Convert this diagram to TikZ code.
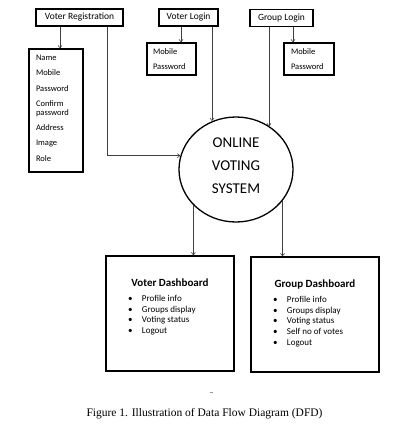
\documentclass[tikz,border=0pt]{standalone}
\usepackage{fontspec}
\setmainfont{Carlito}
\newfontfamily\figfont{Liberation Serif}
\usetikzlibrary{arrows.meta,shapes.geometric}
\tikzset{
  box/.style     = { draw, line width=1.3pt, inner sep=0pt },
  login/.style   = { box, minimum height=17pt, font=\fontsize{9.5}{11}\selectfont },
  flow/.style    = { draw=black!75, line width=0.6pt, -{Straight Barb[length=2.5pt,width=4pt]} },
  process/.style = { box, ellipse, minimum width=114pt, minimum height=105pt,
                     font=\fontsize{15}{23}\selectfont }
}

\begin{document}
\begin{tikzpicture}[x=1pt,y=-1pt]
    \useasboundingbox (0,0) rectangle (410,432);

    \node[login, minimum width=87pt] (vreg)   at (79.5,17.5) {Voter Registration};
    \node[login, minimum width=59pt] (vlogin) at (188.5,17.5) {Voter Login};
    \node[login, minimum width=63pt] (glogin) at (281.5,18)   {Group Login};

    \node[box] (vregform) at (56,110.5) {\parbox[c][123pt][t]{54pt}{\fontsize{8.5}{9}\selectfont
        \raggedright\leftskip=7pt \vspace*{6pt}
        Name\\[6.3pt] Mobile\\[6.3pt] Password\\[6.3pt] Confirm\\ password\\[6.3pt]
        Address\\[6.3pt] Image\\[6.3pt] Role}};
    \node[box] (vloginform) at (171.5,59) {\parbox[c][32pt][t]{49pt}{\fontsize{8.5}{15}\selectfont
        \raggedright\leftskip=6pt \vspace*{6pt}
        Mobile\\ Password}};
    \node[box] (gloginform) at (309,59) {\parbox[c][32pt][t]{50pt}{\fontsize{8.5}{15}\selectfont
        \raggedright\leftskip=7pt \vspace*{6pt}
        Mobile\\ Password}};

    \node[process] (ovs) at (236,169.5)
        {\raisebox{3.5pt}[\height][\depth]{\begin{tabular}{@{}c@{}}ONLINE\\VOTING\\SYSTEM\end{tabular}}};

    \node[box] (vdash) at (170,313.5) {\parbox[c][115pt][t]{128pt}{\vspace*{23pt}
        {\centering\fontsize{11}{12}\selectfont\bfseries Voter Dashboard\par}
        \vspace{4pt}\fontsize{9}{10.7}\selectfont
        \hspace*{22pt}\makebox[14pt][l]{\textbullet}Profile info\par
        \hspace*{22pt}\makebox[14pt][l]{\textbullet}Groups display\par
        \hspace*{22pt}\makebox[14pt][l]{\textbullet}Voting status\par
        \hspace*{22pt}\makebox[14pt][l]{\textbullet}Logout\par}};
    \node[box] (gdash) at (315,314.5) {\parbox[c][115pt][t]{128pt}{\vspace*{23pt}
        {\centering\fontsize{11}{12}\selectfont\bfseries Group Dashboard\par}
        \vspace{4pt}\fontsize{9}{10.7}\selectfont
        \hspace*{22pt}\makebox[14pt][l]{\textbullet}Profile info\par
        \hspace*{22pt}\makebox[14pt][l]{\textbullet}Groups display\par
        \hspace*{22pt}\makebox[14pt][l]{\textbullet}Voting status\par
        \hspace*{22pt}\makebox[14pt][l]{\textbullet}Self no of votes\par
        \hspace*{22pt}\makebox[14pt][l]{\textbullet}Logout\par}};

    % logins to their forms
    \draw[flow] ([xshift=-19.5pt]vreg.south)   -- ([xshift=-19.5pt]vreg.south |- vregform.north);
    \draw[flow] ([xshift=-7.5pt]vlogin.south)  -- ([xshift=-7.5pt]vlogin.south |- vloginform.north);
    \draw[flow] ([xshift=11.5pt]glogin.south)  -- ([xshift=11.5pt]glogin.south |- gloginform.north);

    % logins to the system
    \draw[flow] ([xshift=27.5pt]vreg.south)    |- (ovs.166.2);
    \draw[flow] ([xshift=23.5pt]vlogin.south)  -- ([xshift=23.5pt]vlogin.south |- ovs.116.8);
    \draw[flow] ([xshift=-12.5pt]glogin.south) -- ([xshift=-12.5pt]glogin.south |- ovs.52.4);

    % system to dashboards
    \draw[flow] (ovs.220.2) -- (ovs.220.2 |- vdash.north);
    \draw[flow] (ovs.326)   -- (ovs.326 |- gdash.north);

    \draw[black!40, line width=0.8pt] (209.5,392) -- (212.5,392);

    \node[font=\figfont\fontsize{11.5}{13}\selectfont, anchor=west] (caption) at (83,414)
        {Figure 1. Illustration of Data Flow Diagram (DFD)};
\end{tikzpicture}
\end{document}
